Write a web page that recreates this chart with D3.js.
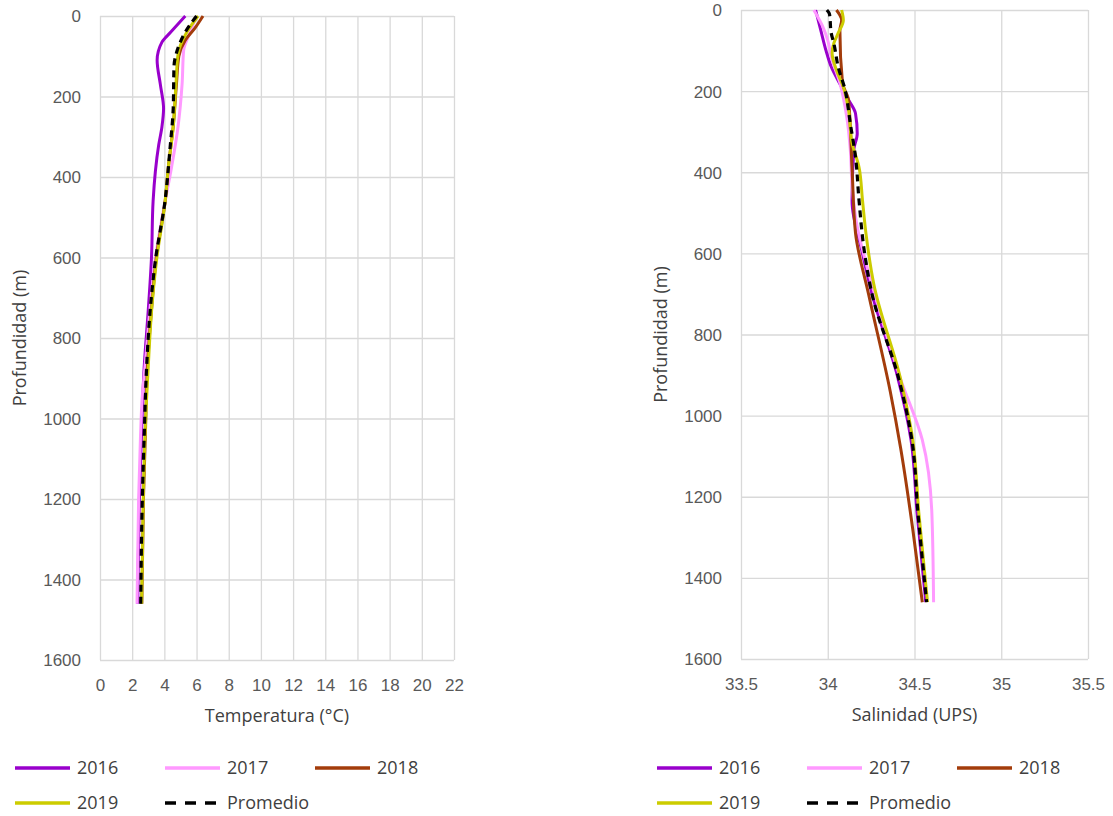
<!DOCTYPE html>
<html lang="es">
<head>
<meta charset="UTF-8">
<title>Perfiles de temperatura y salinidad</title>
<script src="https://d3js.org/d3.v7.min.js"></script>
<style>
  body { margin: 0; background: #fff; }
  svg { font-family: "Open Sans", "Noto Sans", sans-serif; }
  .tick text { font-size: 17px; fill: #595959; }
  .grid line { stroke: #d9d9d9; stroke-width: 1.3; }
  .grid .domain { display: none; }
  .title { font-size: 18px; fill: #404040; }
  .legend text { font-size: 18px; fill: #404040; }
</style>
</head>
<body>
<svg id="chart" width="1113" height="816"></svg>
<script>
// series: [profundidad (m), valor]
const years = ["2016", "2017", "2018", "2019", "Promedio"];
const colors = ["#9900cc", "#ff99ff", "#a33c0b", "#cccc00", "#000000"];

const temp2016 = [[0,5.3],[40,4.4],[65,3.85],[110,3.55],[170,3.75],[230,3.95],[275,3.85],[320,3.65],[460,3.3],[600,3.2],[730,3.0],[870,2.75],[1040,2.58],[1200,2.45],[1460,2.35]];
const temp2017 = [[0,6.0],[40,5.6],[85,5.2],[170,5.1],[275,4.85],[375,4.45],[460,4.05],[600,3.45],[730,3.1],[870,2.8],[950,2.62],[1040,2.52],[1200,2.4],[1460,2.3]];
const temp2018 = [[0,6.4],[30,5.9],[60,5.3],[100,4.9],[170,4.75],[275,4.55],[375,4.25],[460,4.05],[600,3.5],[730,3.2],[870,2.95],[1040,2.82],[1200,2.7],[1460,2.6]];
const temp2019 = [[0,6.1],[40,5.4],[95,4.85],[170,4.72],[275,4.55],[375,4.25],[460,4.05],[605,3.52],[730,3.21],[870,3.0],[1040,2.8],[1200,2.69],[1460,2.59]];
const tempProm = [[0,6.0],[40,5.3],[85,4.8],[125,4.6],[230,4.55],[330,4.35],[460,4.04],[605,3.45],[730,3.12],[870,2.9],[1040,2.75],[1200,2.63],[1460,2.53]];

const sal2016 = [[0,33.93],[50,33.96],[100,33.99],[140,34.02],[190,34.08],[222,34.12],[255,34.16],[305,34.17],[345,34.15],[470,34.14],[600,34.2],[700,34.255],[900,34.4],[1060,34.48],[1240,34.515],[1460,34.565]];
const sal2017 = [[0,33.92],[40,33.97],[75,34.0],[115,34.02],[180,34.07],[265,34.11],[345,34.13],[430,34.14],[510,34.16],[700,34.27],[910,34.42],[1060,34.545],[1240,34.6],[1460,34.61]];
const sal2018 = [[0,34.05],[25,34.08],[50,34.07],[180,34.085],[222,34.12],[390,34.14],[550,34.16],[700,34.235],[940,34.36],[1080,34.42],[1280,34.49],[1460,34.545]];
const sal2019 = [[0,34.08],[25,34.09],[57,34.06],[82,34.035],[106,34.025],[148,34.05],[190,34.09],[247,34.12],[328,34.14],[387,34.18],[468,34.2],[550,34.22],[675,34.265],[910,34.42],[1060,34.49],[1240,34.525],[1460,34.575]];
const salProm = [[0,33.995],[10,34.01],[57,34.02],[82,34.035],[140,34.06],[197,34.1],[280,34.13],[362,34.16],[468,34.18],[592,34.21],[700,34.255],[910,34.41],[1060,34.485],[1240,34.52],[1460,34.57]];

const depthTicks = [0, 200, 400, 600, 800, 1000, 1200, 1400, 1600];
const tempTicks = [0, 2, 4, 6, 8, 10, 12, 14, 16, 18, 20, 22];
const salTicks = [33.5, 34, 34.5, 35, 35.5];

const svg = d3.select("#chart");

function drawPanel(opt) {
  const x = d3.scaleLinear().domain(opt.xDomain).range([opt.left, opt.right]);
  const y = d3.scaleLinear().domain([0, 1600]).range([opt.top, opt.bottom]);
  const g = svg.append("g");

  // rejilla vertical
  g.append("g").attr("class", "grid")
    .attr("transform", `translate(0,${opt.bottom})`)
    .call(d3.axisBottom(x).tickValues(opt.xTicks).tickSize(-(opt.bottom - opt.top)).tickFormat(""));
  // rejilla horizontal
  g.append("g").attr("class", "grid")
    .attr("transform", `translate(${opt.left},0)`)
    .call(d3.axisLeft(y).tickValues(depthTicks).tickSize(-(opt.right - opt.left)).tickFormat(""));

  // etiquetas
  const xa = g.append("g").attr("transform", `translate(0,${opt.bottom + 7})`)
    .call(d3.axisBottom(x).tickValues(opt.xTicks).tickSize(0).tickPadding(12).tickFormat(opt.fmt));
  xa.select(".domain").remove();
  const ya = g.append("g").attr("transform", `translate(${opt.left - 19},0)`)
    .call(d3.axisLeft(y).tickValues(depthTicks).tickSize(0).tickPadding(0).tickFormat(d3.format("d")));
  ya.select(".domain").remove();
  ya.selectAll("text").attr("dy", "0.35em");

  g.append("text").attr("class", "title")
    .attr("x", (opt.left + opt.right) / 2).attr("y", opt.bottom + 62)
    .attr("text-anchor", "middle").text(opt.xLabel);
  g.append("text").attr("class", "title")
    .attr("transform", `translate(${opt.left - 74},${(opt.top + opt.bottom) / 2}) rotate(-90)`)
    .attr("text-anchor", "middle").text("Profundidad (m)");

  const line = d3.line().x(d => x(d[1])).y(d => y(d[0])).curve(d3.curveMonotoneY);
  opt.series.forEach((s, i) => {
    g.append("path").datum(s)
      .attr("fill", "none")
      .attr("stroke", colors[i])
      .attr("stroke-width", i === 4 ? 3.2 : 3)
      .attr("stroke-dasharray", i === 4 ? "7,5" : null)
      .attr("d", line);
  });

  // leyenda
  const lg = g.append("g").attr("class", "legend");
  years.forEach((name, i) => {
    const col = i % 3, row = Math.floor(i / 3);
    const lx = opt.legendX + col * 150, ly = 768 + row * 35;
    lg.append("line")
      .attr("x1", lx).attr("x2", lx + (i === 4 ? 51 : 55)).attr("y1", ly).attr("y2", ly)
      .attr("stroke", colors[i]).attr("stroke-width", 3.5)
      .attr("stroke-dasharray", i === 4 ? "11,9" : null);
    lg.append("text").attr("x", lx + 62).attr("y", ly).attr("dy", "0.35em").text(name);
  });
}

drawPanel({
  left: 100, right: 454, top: 16, bottom: 660,
  xDomain: [0, 22], xTicks: tempTicks, fmt: d3.format("d"),
  xLabel: "Temperatura (°C)",
  series: [temp2016, temp2017, temp2018, temp2019, tempProm],
  legendX: 15
});

drawPanel({
  left: 741, right: 1088, top: 10, bottom: 659,
  xDomain: [33.5, 35.5], xTicks: salTicks, fmt: d => String(d),
  xLabel: "Salinidad (UPS)",
  series: [sal2016, sal2017, sal2018, sal2019, salProm],
  legendX: 657
});
</script>
</body>
</html>
